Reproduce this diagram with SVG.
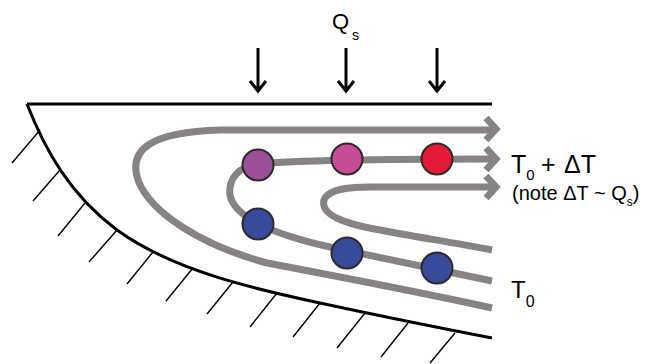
<svg xmlns="http://www.w3.org/2000/svg" width="655" height="364" viewBox="0 0 655 364">
  <style>
    .edge { fill: none; stroke: #000; stroke-width: 3; }
    .hatch { fill: none; stroke: #000; stroke-width: 1.4; }
    .flow { fill: none; stroke: #878382; stroke-width: 7; stroke-linecap: butt; }
    .head { fill: none; stroke: #878382; stroke-width: 7; stroke-linejoin: miter; }
    .down { fill: none; stroke: #000; stroke-width: 3; }
    .dot { stroke: #2e2a2b; stroke-width: 2; }
    text { font-family: "Liberation Sans", Arial, sans-serif; fill: #000; }
  </style>

  <!-- surface and base -->
  <g id="surface">
    <path class="edge" d="M27,104 H492"/>
    <path class="edge" d="M27,104 C45,150 70,195 117,230 C175,272 260,290 320,303 C380,316 440,328 492,338"/>
  </g>
  <g id="hatching">
    <path class="hatch" d="M40,130 l-28,33 M60,170 l-27,31 M85,203 l-27,33 M117,230 l-28,32 M153,252 l-26,32 M193,268 l-27,33 M233,282 l-26,32 M277,293 l-27,34 M320,303 l-27,34 M365,313 l-28,35 M408,323 l-27,34 M455,333 l-25,30"/>
  </g>

  <!-- heat input arrows -->
  <g id="heat-flux">
    <path class="down" d="M258,48 V91 M250,81 L258,91 L266,81"/>
    <path class="down" d="M346,48 V91 M338,81 L346,91 L354,81"/>
    <path class="down" d="M437,48 V91 M429,81 L437,91 L445,81"/>
    <text x="332" y="29" font-size="22">Q</text>
    <text x="352" y="40" font-size="14">s</text>
  </g>

  <!-- flow lines -->
  <g id="connectors">
    <path class="flow" d="M492,308 C420,292 330,275 267,263 C200,245 150,212 138,180 C128,150 150,132 220,130 H492"/>
    <path class="head" d="M486,118 L496,129 L486,140"/>
    <path class="flow" d="M492,281 C430,268 380,258 330,247 C290,238 235,222 230,195 C228,178 240,166 258,164 C300,160 400,159 492,159"/>
    <path class="head" d="M486,148 L496,159 L486,170"/>
    <path class="flow" d="M492,250 C450,242 410,236 380,230 C345,224 320,215 324,200 C328,190 345,187 370,187 H492"/>
    <path class="head" d="M486,176 L496,187 L486,198"/>
  </g>

  <!-- particles -->
  <g id="p1"><circle class="dot" cx="258" cy="165" r="15.5" fill="#9a4f96"/></g>
  <g id="p2"><circle class="dot" cx="347" cy="159" r="15.5" fill="#c84b98"/></g>
  <g id="p3"><circle class="dot" cx="437" cy="159" r="15.5" fill="#e31b37"/></g>
  <g id="p4"><circle class="dot" cx="258" cy="224" r="15.5" fill="#384b9b"/></g>
  <g id="p5"><circle class="dot" cx="347" cy="253" r="15.5" fill="#384b9b"/></g>
  <g id="p6"><circle class="dot" cx="437" cy="268" r="15.5" fill="#384b9b"/></g>

  <!-- labels -->
  <g id="label-warm">
    <text x="511" y="173" font-size="25">T<tspan font-size="15" dy="7">0</tspan><tspan x="541" dy="-7">+</tspan><tspan x="564">ΔT</tspan></text>
    <text x="512" y="200" font-size="20">(note ΔT ~ Q<tspan font-size="12" dy="6">s</tspan><tspan dy="-6">)</tspan></text>
  </g>
  <g id="label-base">
    <text x="511" y="298" font-size="24">T<tspan font-size="16" dy="9">0</tspan></text>
  </g>
</svg>
